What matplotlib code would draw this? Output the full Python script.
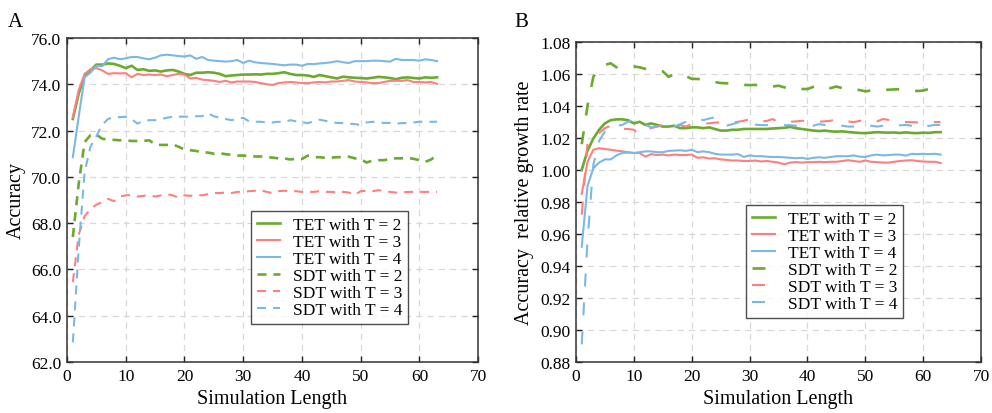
import numpy as np
import matplotlib
matplotlib.use("Agg")
import matplotlib.pyplot as plt

plt.rcParams['font.family'] = ['Liberation Serif', 'DejaVu Serif']
plt.rcParams['mathtext.fontset'] = 'stix'

steps = np.arange(1, 64)
labels = ["TET with T = 2", "TET with T = 3", "TET with T = 4",
          "SDT with T = 2", "SDT with T = 3", "SDT with T = 4"]

# panel A : accuracy
tet2_acc = [72.5, 73.6, 74.35, 74.6, 74.85, 74.85, 74.9, 74.88, 74.8, 74.7,
            74.8, 74.62, 74.65, 74.58, 74.6, 74.55, 74.6, 74.62, 74.55, 74.45,
            74.4, 74.5, 74.5, 74.52, 74.5, 74.45, 74.35, 74.38, 74.4, 74.42,
            74.42, 74.43, 74.42, 74.45, 74.45, 74.48, 74.52, 74.45, 74.4, 74.4,
            74.38, 74.32, 74.4, 74.35, 74.3, 74.25, 74.33, 74.3, 74.28, 74.27,
            74.25, 74.28, 74.32, 74.3, 74.27, 74.22, 74.28, 74.3, 74.27, 74.25,
            74.3, 74.28, 74.3]
tet3_acc = [72.57, 73.75, 74.45, 74.65, 74.7, 74.6, 74.45, 74.48, 74.47, 74.48,
            74.3, 74.45, 74.4, 74.42, 74.4, 74.42, 74.35, 74.4, 74.45, 74.42,
            74.25, 74.28, 74.2, 74.18, 74.15, 74.1, 74.15, 74.08, 74.12, 74.12,
            74.12, 74.1, 74.05, 74.0, 73.97, 74.05, 74.08, 74.1, 74.08, 74.05,
            74.05, 74.08, 74.1, 74.08, 74.12, 74.12, 74.15, 74.18, 74.12, 74.1,
            74.08, 74.05, 74.05, 74.1, 74.15, 74.15, 74.15, 74.18, 74.1, 74.1,
            74.08, 74.1, 74.02]
tet4_acc = [70.85, 72.6, 74.3, 74.5, 74.8, 74.78, 75.08, 75.15, 75.08, 75.12,
            75.18, 75.18, 75.12, 75.08, 75.15, 75.25, 75.28, 75.25, 75.22, 75.2,
            75.25, 75.1, 75.18, 75.05, 75.02, 75.0, 74.98, 75.0, 75.05, 74.92,
            75.02, 74.95, 74.92, 74.9, 74.88, 74.85, 74.82, 74.85, 74.85, 74.8,
            74.88, 74.87, 74.9, 74.92, 74.95, 75.0, 74.95, 74.92, 75.0, 75.0,
            75.0, 75.02, 75.02, 75.0, 74.98, 75.1, 75.05, 75.05, 75.05, 75.02,
            75.08, 75.05, 75.0]
sdt2_acc = [67.4, 69.7, 71.5, 71.8, 71.82, 71.65, 71.6, 71.6, 71.58, 71.58,
            71.55, 71.55, 71.55, 71.58, 71.4, 71.38, 71.38, 71.4, 71.3, 71.18,
            71.15, 71.12, 71.05, 71.05, 71.0, 71.02, 70.98, 70.95, 70.92, 70.92,
            70.9, 70.88, 70.88, 70.85, 70.83, 70.8, 70.8, 70.75, 70.78, 70.77,
            70.92, 70.85, 70.85, 70.82, 70.83, 70.85, 70.85, 70.87, 70.8, 70.77,
            70.62, 70.7, 70.72, 70.72, 70.78, 70.8, 70.8, 70.82, 70.78, 70.72,
            70.65, 70.75, 70.95]
sdt3_acc = [65.45, 67.5, 68.3, 68.6, 68.8, 68.9, 69.05, 68.95, 69.15, 69.2,
            69.22, 69.15, 69.18, 69.2, 69.15, 69.2, 69.25, 69.2, 69.1, 69.2,
            69.18, 69.22, 69.2, 69.25, 69.3, 69.3, 69.32, 69.3, 69.35, 69.35,
            69.38, 69.4, 69.42, 69.35, 69.3, 69.38, 69.4, 69.38, 69.38, 69.35,
            69.35, 69.35, 69.38, 69.35, 69.35, 69.33, 69.35, 69.32, 69.22, 69.38,
            69.4, 69.38, 69.42, 69.4, 69.35, 69.32, 69.33, 69.35, 69.35, 69.35,
            69.35, 69.35, 69.35]
sdt4_acc = [62.85, 66.9, 70.2, 71.3, 71.75, 72.25, 72.5, 72.58, 72.58, 72.6,
            72.5, 72.3, 72.42, 72.45, 72.45, 72.5, 72.55, 72.6, 72.6, 72.6,
            72.6, 72.62, 72.62, 72.75, 72.62, 72.55, 72.5, 72.45, 72.5, 72.55,
            72.4, 72.38, 72.38, 72.35, 72.35, 72.38, 72.36, 72.45, 72.4, 72.36,
            72.32, 72.4, 72.47, 72.42, 72.36, 72.33, 72.32, 72.3, 72.28, 72.24,
            72.35, 72.38, 72.36, 72.33, 72.33, 72.3, 72.32, 72.33, 72.35, 72.38,
            72.38, 72.38, 72.38]

# panel B : relative growth rate
tet2_rel = [1.000, 1.012, 1.0195, 1.025, 1.029, 1.031, 1.0315, 1.0315, 1.031, 1.029,
            1.030, 1.028, 1.029, 1.028, 1.027, 1.027, 1.0275, 1.026, 1.026, 1.0265,
            1.0265, 1.026, 1.0265, 1.0255, 1.0245, 1.0245, 1.025, 1.025, 1.0255, 1.0255,
            1.0255, 1.0255, 1.0255, 1.0258, 1.026, 1.0262, 1.0268, 1.026, 1.0255, 1.025,
            1.0245, 1.0242, 1.0245, 1.024, 1.0238, 1.024, 1.0236, 1.0233, 1.023, 1.0229,
            1.0232, 1.0235, 1.0233, 1.0232, 1.0233, 1.023, 1.0234, 1.023, 1.0229, 1.0232,
            1.023, 1.0235, 1.0235]
tet3_rel = [0.985, 1.005, 1.0125, 1.0135, 1.013, 1.0125, 1.012, 1.0115, 1.011, 1.0105,
            1.0105, 1.0082, 1.0098, 1.0092, 1.0095, 1.009, 1.0095, 1.0092, 1.0092, 1.0095,
            1.0075, 1.0078, 1.007, 1.0072, 1.0065, 1.0062, 1.0058, 1.0058, 1.0055, 1.0055,
            1.0058, 1.0052, 1.0055, 1.005, 1.0045, 1.0035, 1.0045, 1.0048, 1.0045, 1.0048,
            1.0048, 1.005, 1.0048, 1.005, 1.005, 1.0055, 1.006, 1.0055, 1.005, 1.0058,
            1.005, 1.0048, 1.0045, 1.0045, 1.005, 1.0055, 1.0058, 1.006, 1.0055, 1.0052,
            1.005, 1.005, 1.0042]
tet4_rel = [0.952, 0.990, 1.001, 1.0045, 1.0065, 1.0065, 1.009, 1.0105, 1.0108, 1.0105,
            1.011, 1.0115, 1.0115, 1.011, 1.011, 1.0118, 1.012, 1.0122, 1.0118, 1.0125,
            1.011, 1.0115, 1.011, 1.010, 1.0095, 1.0095, 1.0095, 1.0098, 1.008, 1.009,
            1.0085, 1.0085, 1.0082, 1.008, 1.008, 1.0078, 1.0075, 1.0072, 1.0075, 1.0068,
            1.0075, 1.0078, 1.0075, 1.008, 1.0085, 1.0085, 1.0085, 1.009, 1.0082, 1.008,
            1.009, 1.0095, 1.009, 1.0092, 1.0095, 1.0095, 1.0088, 1.010, 1.0098, 1.010,
            1.0098, 1.010, 1.0095]
sdt2_rel = [1.016, 1.040, 1.058, 1.064, 1.0655, 1.0665, 1.064, 1.065, 1.0645, 1.0645,
            1.064, 1.063, 1.0625, 1.0625, 1.0615, 1.058, 1.0598, 1.060, 1.0585, 1.0568,
            1.0567, 1.0565, 1.0555, 1.0548, 1.0542, 1.054, 1.0542, 1.0535, 1.053, 1.0529,
            1.053, 1.0528, 1.0525, 1.052, 1.0525, 1.0515, 1.0504, 1.051, 1.0505, 1.0504,
            1.0518, 1.0531, 1.052, 1.051, 1.052, 1.051, 1.050, 1.0502, 1.0498, 1.049,
            1.0495, 1.0492, 1.0498, 1.050, 1.0502, 1.0503, 1.050, 1.0495, 1.0492, 1.0495,
            1.0505, 1.0518, 1.053]
sdt3_rel = [0.972, 1.017, 1.019, 1.023, 1.026, 1.0275, 1.025, 1.0255, 1.0255, 1.025,
            1.022, 1.0245, 1.026, 1.027, 1.028, 1.028, 1.0275, 1.028, 1.027, 1.0285,
            1.0288, 1.029, 1.029, 1.0295, 1.0296, 1.029, 1.0295, 1.030, 1.0306, 1.0317,
            1.031, 1.0302, 1.0305, 1.0317, 1.0296, 1.0298, 1.030, 1.0302, 1.0306, 1.0306,
            1.0305, 1.030, 1.0303, 1.0306, 1.0317, 1.031, 1.0302, 1.0298, 1.0305, 1.0317,
            1.0305, 1.0302, 1.0317, 1.0312, 1.0306, 1.030, 1.0298, 1.0298, 1.0296, 1.0298,
            1.030, 1.0298, 1.0298]
sdt4_rel = [0.891, 0.956, 1.003, 1.018, 1.024, 1.0275, 1.0275, 1.028, 1.030, 1.031,
            1.0295, 1.028, 1.0265, 1.027, 1.0268, 1.026, 1.027, 1.0285, 1.030, 1.0317,
            1.032, 1.031, 1.032, 1.0328, 1.029, 1.0275, 1.0285, 1.0296, 1.0298, 1.0288,
            1.0282, 1.0279, 1.0279, 1.0279, 1.028, 1.0278, 1.0279, 1.0275, 1.027, 1.0272,
            1.0275, 1.0285, 1.028, 1.027, 1.0272, 1.0275, 1.027, 1.027, 1.027, 1.0272,
            1.0275, 1.027, 1.0275, 1.028, 1.028, 1.0278, 1.028, 1.0275, 1.026, 1.0268,
            1.0275, 1.028, 1.028]

green = '#6aaa2e'
red = '#ff7f7f'
blue = '#7ab8e6'
colors = [green, red, blue, green, red, blue]
widths = [1.9, 1.5, 1.5, 1.9, 1.5, 1.5]

fig = plt.figure(figsize=(9.92, 4.14), dpi=100)
axA = fig.add_axes([0.0675, 0.1232, 0.4145, 0.7826])
axB = fig.add_axes([0.5806, 0.1232, 0.4084, 0.7737])


def style(ax):
    ax.grid(True, color='#d8d8d8', linestyle=(0, (5, 4)), linewidth=0.9)
    ax.set_axisbelow(True)
    ax.tick_params(direction='in', top=True, right=True, labelsize=12.5,
                   length=4, width=1, color='#222222', pad=4)
    for s in ax.spines.values():
        s.set_linewidth(1.1)
        s.set_color('#333333')
    ax.set_xlim(0, 70)
    ax.set_xticks(range(0, 71, 10))
    ax.set_xlabel('Simulation Length', fontsize=14.5)


def draw(ax, series, dash_px):
    for i, (vals, lab) in enumerate(zip(series, labels)):
        lw = widths[i]
        line, = ax.plot(steps, vals, color=colors[i], lw=lw, label=lab)
        if i >= 3:
            on, off = dash_px
            line.set_dashes((on * 0.72 / lw, off * 0.72 / lw))


def legend(ax, anchor):
    leg = ax.legend(loc='upper left', bbox_to_anchor=anchor, fontsize=12.5,
                    frameon=True, fancybox=False, edgecolor='#222222',
                    labelspacing=0.05, handlelength=1.3, handletextpad=0.75,
                    borderpad=0.35, borderaxespad=0)
    leg.get_frame().set_linewidth(1.0)


draw(axA, [tet2_acc, tet3_acc, tet4_acc, sdt2_acc, sdt3_acc, sdt4_acc], (9, 7))
style(axA)
axA.set_ylim(62, 76)
axA.set_yticks(np.arange(62, 76.1, 2))
axA.set_yticklabels(['%.1f' % v for v in np.arange(62, 76.1, 2)])
axA.set_ylabel('Accuracy', fontsize=14.5, labelpad=4)
legend(axA, (0.448, 0.466))

draw(axB, [tet2_rel, tet3_rel, tet4_rel, sdt2_rel, sdt3_rel, sdt4_rel], (13, 16))
style(axB)
axB.set_ylim(0.88, 1.08)
axB.set_yticks(np.arange(0.88, 1.081, 0.02))
axB.set_yticklabels(['%.2f' % v for v in np.arange(0.88, 1.081, 0.02)])
axB.set_ylabel('Accuracy  relative growth rate', fontsize=14.5, labelpad=4)
legend(axB, (0.42, 0.49))

fig.text(0.008, 0.945, 'A', fontsize=15, va='center')
fig.text(0.519, 0.945, 'B', fontsize=15, va='center')

fig.savefig('out.png', dpi=100)
